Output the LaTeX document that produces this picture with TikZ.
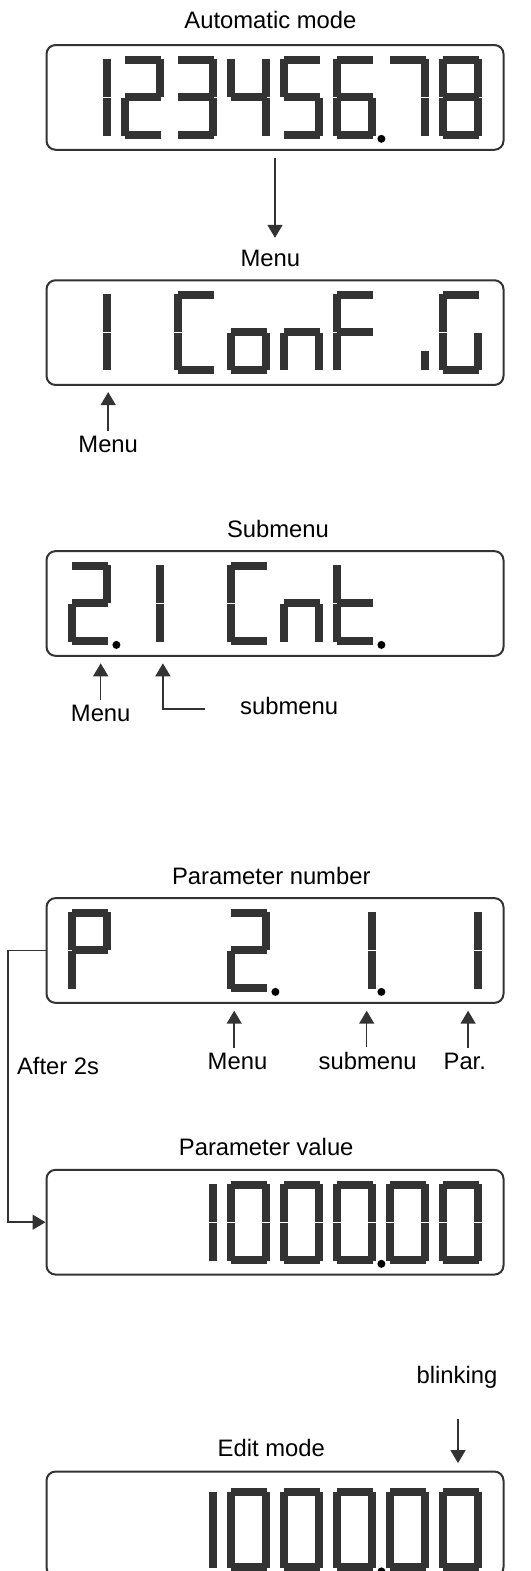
\documentclass[tikz,border=0pt]{standalone}
\usepackage{fontspec}
\setmainfont{Liberation Sans}
\usetikzlibrary{positioning, arrows.meta, calc}

\definecolor{lcd}{HTML}{333333}

% segments of one display digit, top left at (0,0)
\def\sega{(3.3,0) rectangle (39.7,8)}
\def\segb{(35,3.3) rectangle (43,41.2)}
\def\segc{(35,41.8) rectangle (43,79.7)}
\def\segd{(3.3,75) rectangle (39.7,83)}
\def\sege{(0,41.8) rectangle (8,79.7)}
\def\segf{(0,3.3) rectangle (8,41.2)}
\def\segg{(3.3,37.5) rectangle (39.7,45.5)}
\def\segi{(35,60) rectangle (43,79.7)}

\newcommand{\lcdchar}[3]{%
  \begin{scope}[shift={({68.4+(#1-1)*53},#2)}]
    \foreach \sg in {#3} {\fill[lcd] \csname seg\sg\endcsname;}
  \end{scope}}
\newcommand{\lcddot}[2]{\fill[black] ({68.4+(#1-1)*53+48},{#2+83}) circle (4);}

\begin{document}
\begin{tikzpicture}[x=1pt, y=-1pt,
    lcdbox/.style={draw=lcd, line width=2pt, rounded corners=9pt,
      minimum width=457pt, minimum height=104.7pt, inner sep=0pt},
    lbl/.style={font=\fontsize{23.8}{28}\selectfont, inner sep=0pt, anchor=base},
    arr/.style={draw=lcd, line width=1.5pt, -{Triangle[length=13pt,width=15pt]}}]
  \path[use as bounding box, clip] (0,0) rectangle (530,1571);

  % displays
  \node[lcdbox] (auto) at (275,97.4) {};
  \node[lcdbox] (menu) at (275,332.6) {};
  \node[lcdbox] (sub) at (275,603.5) {};
  \node[lcdbox] (parnum) at (275,950.5) {};
  \node[lcdbox] (parval) at (275,1222.2) {};
  \node[lcdbox] (edit) at (275,1523.9) {};

  % titles
  \node[lbl] (autot) at (270.4,28.7) {Automatic mode};
  \node[lbl] (menut) at (270.4,266.4) {Menu};
  \node[lbl] (subt) at (278,537.6) {Submenu};
  \node[lbl] (parnumt) at (271.3,884) {Parameter number};
  \node[lbl] (parvalt) at (266.2,1155.8) {Parameter value};
  \node[lbl] (editt) at (271.3,1456.3) {Edit mode};

  % 12345678
  \lcdchar{1}{55.8}{b,c}
  \lcdchar{2}{55.8}{a,b,g,e,d}
  \lcdchar{3}{55.8}{a,b,g,c,d}
  \lcdchar{4}{55.8}{f,g,b,c}
  \lcdchar{5}{55.8}{a,f,g,c,d}
  \lcdchar{6}{55.8}{a,f,g,e,c,d}
  \lcddot{6}{55.8}
  \lcdchar{7}{55.8}{a,b,c}
  \lcdchar{8}{55.8}{a,b,c,d,e,f,g}

  % 1 ConF iG
  \lcdchar{1}{290.7}{b,c}
  \lcdchar{3}{290.7}{a,f,e,d}
  \lcdchar{4}{290.7}{g,c,d,e}
  \lcdchar{5}{290.7}{g,c,e}
  \lcdchar{6}{290.7}{a,f,g,e}
  \lcdchar{7}{290.7}{i}
  \lcdchar{8}{290.7}{a,f,e,d,c}

  % 2.1 Cnt.
  \lcdchar{1}{561.9}{a,b,g,e,d}
  \lcddot{1}{561.9}
  \lcdchar{2}{561.9}{b,c}
  \lcdchar{4}{561.9}{a,f,e,d}
  \lcdchar{5}{561.9}{g,c,e}
  \lcdchar{6}{561.9}{f,e,g,d}
  \lcddot{6}{561.9}

  % P 2.1.1
  \lcdchar{1}{908.9}{a,b,f,g,e}
  \lcdchar{4}{908.9}{a,b,g,e,d}
  \lcddot{4}{908.9}
  \lcdchar{6}{908.9}{b,c}
  \lcddot{6}{908.9}
  \lcdchar{8}{908.9}{b,c}

  % 1000.00
  \foreach \top in {1180.8,1488.4} {
    \lcdchar{3}{\top}{b,c}
    \foreach \p in {4,...,8} {\lcdchar{\p}{\top}{a,b,c,d,e,f}}
    \lcddot{6}{\top}
  }

  % labels below the displays
  \node[lbl] (menua) at (108.2,452) {Menu};
  \node[lbl] (menub) at (100.7,721) {Menu};
  \node[lbl, anchor=base west] (subb) at (240,714) {submenu};
  \node[lbl] (menuc) at (237.5,1069.2) {Menu};
  \node[lbl] (subc) at (367.6,1069.2) {submenu};
  \node[lbl] (parc) at (464.8,1069.2) {Par.};
  \node[lbl, anchor=base west] (after) at (16.9,1074.9) {After 2s};
  \node[lbl] (blink) at (457,1383.7) {blinking};

  % arrow tips
  \coordinate (tipa) at (108.2,392.1);
  \coordinate (tipb) at (100.7,663.3);
  \coordinate (tipb2) at (162.9,663.3);
  \coordinate (cornb) at (162.9,709);
  \coordinate (tipc) at (234.2,1010.7);
  \coordinate (tipc2) at (366.7,1010.7);
  \coordinate (tipc3) at (468.1,1010.7);
  \coordinate (tipd) at (458,1463.1);

  \draw[arr, shorten <=7.6pt, shorten >=12pt] (auto.south) -- (auto.south |- menut.north);
  \draw[arr, shorten <=4pt] (menua.north) -- (tipa);
  \draw[arr, shorten <=4pt] (menub.north -| tipb) -- (tipb);
  \draw[arr] (cornb -| subb.west) ++(-35,0) -- (cornb) -- (tipb2);
  \draw[arr, shorten <=4.3pt] (menuc.north -| tipc) -- (tipc);
  \draw[arr, shorten <=4.3pt] (subc.north -| tipc2) -- (tipc2);
  \draw[arr, shorten <=4.3pt] (parc.north -| tipc3) -- (tipc3);
  \draw[arr] (parnum.west) -- ++(-37.4,0) |- (parval.west);
  \draw[arr, shorten <=30.5pt] (blink.south -| tipd) -- (tipd);
\end{tikzpicture}
\end{document}
